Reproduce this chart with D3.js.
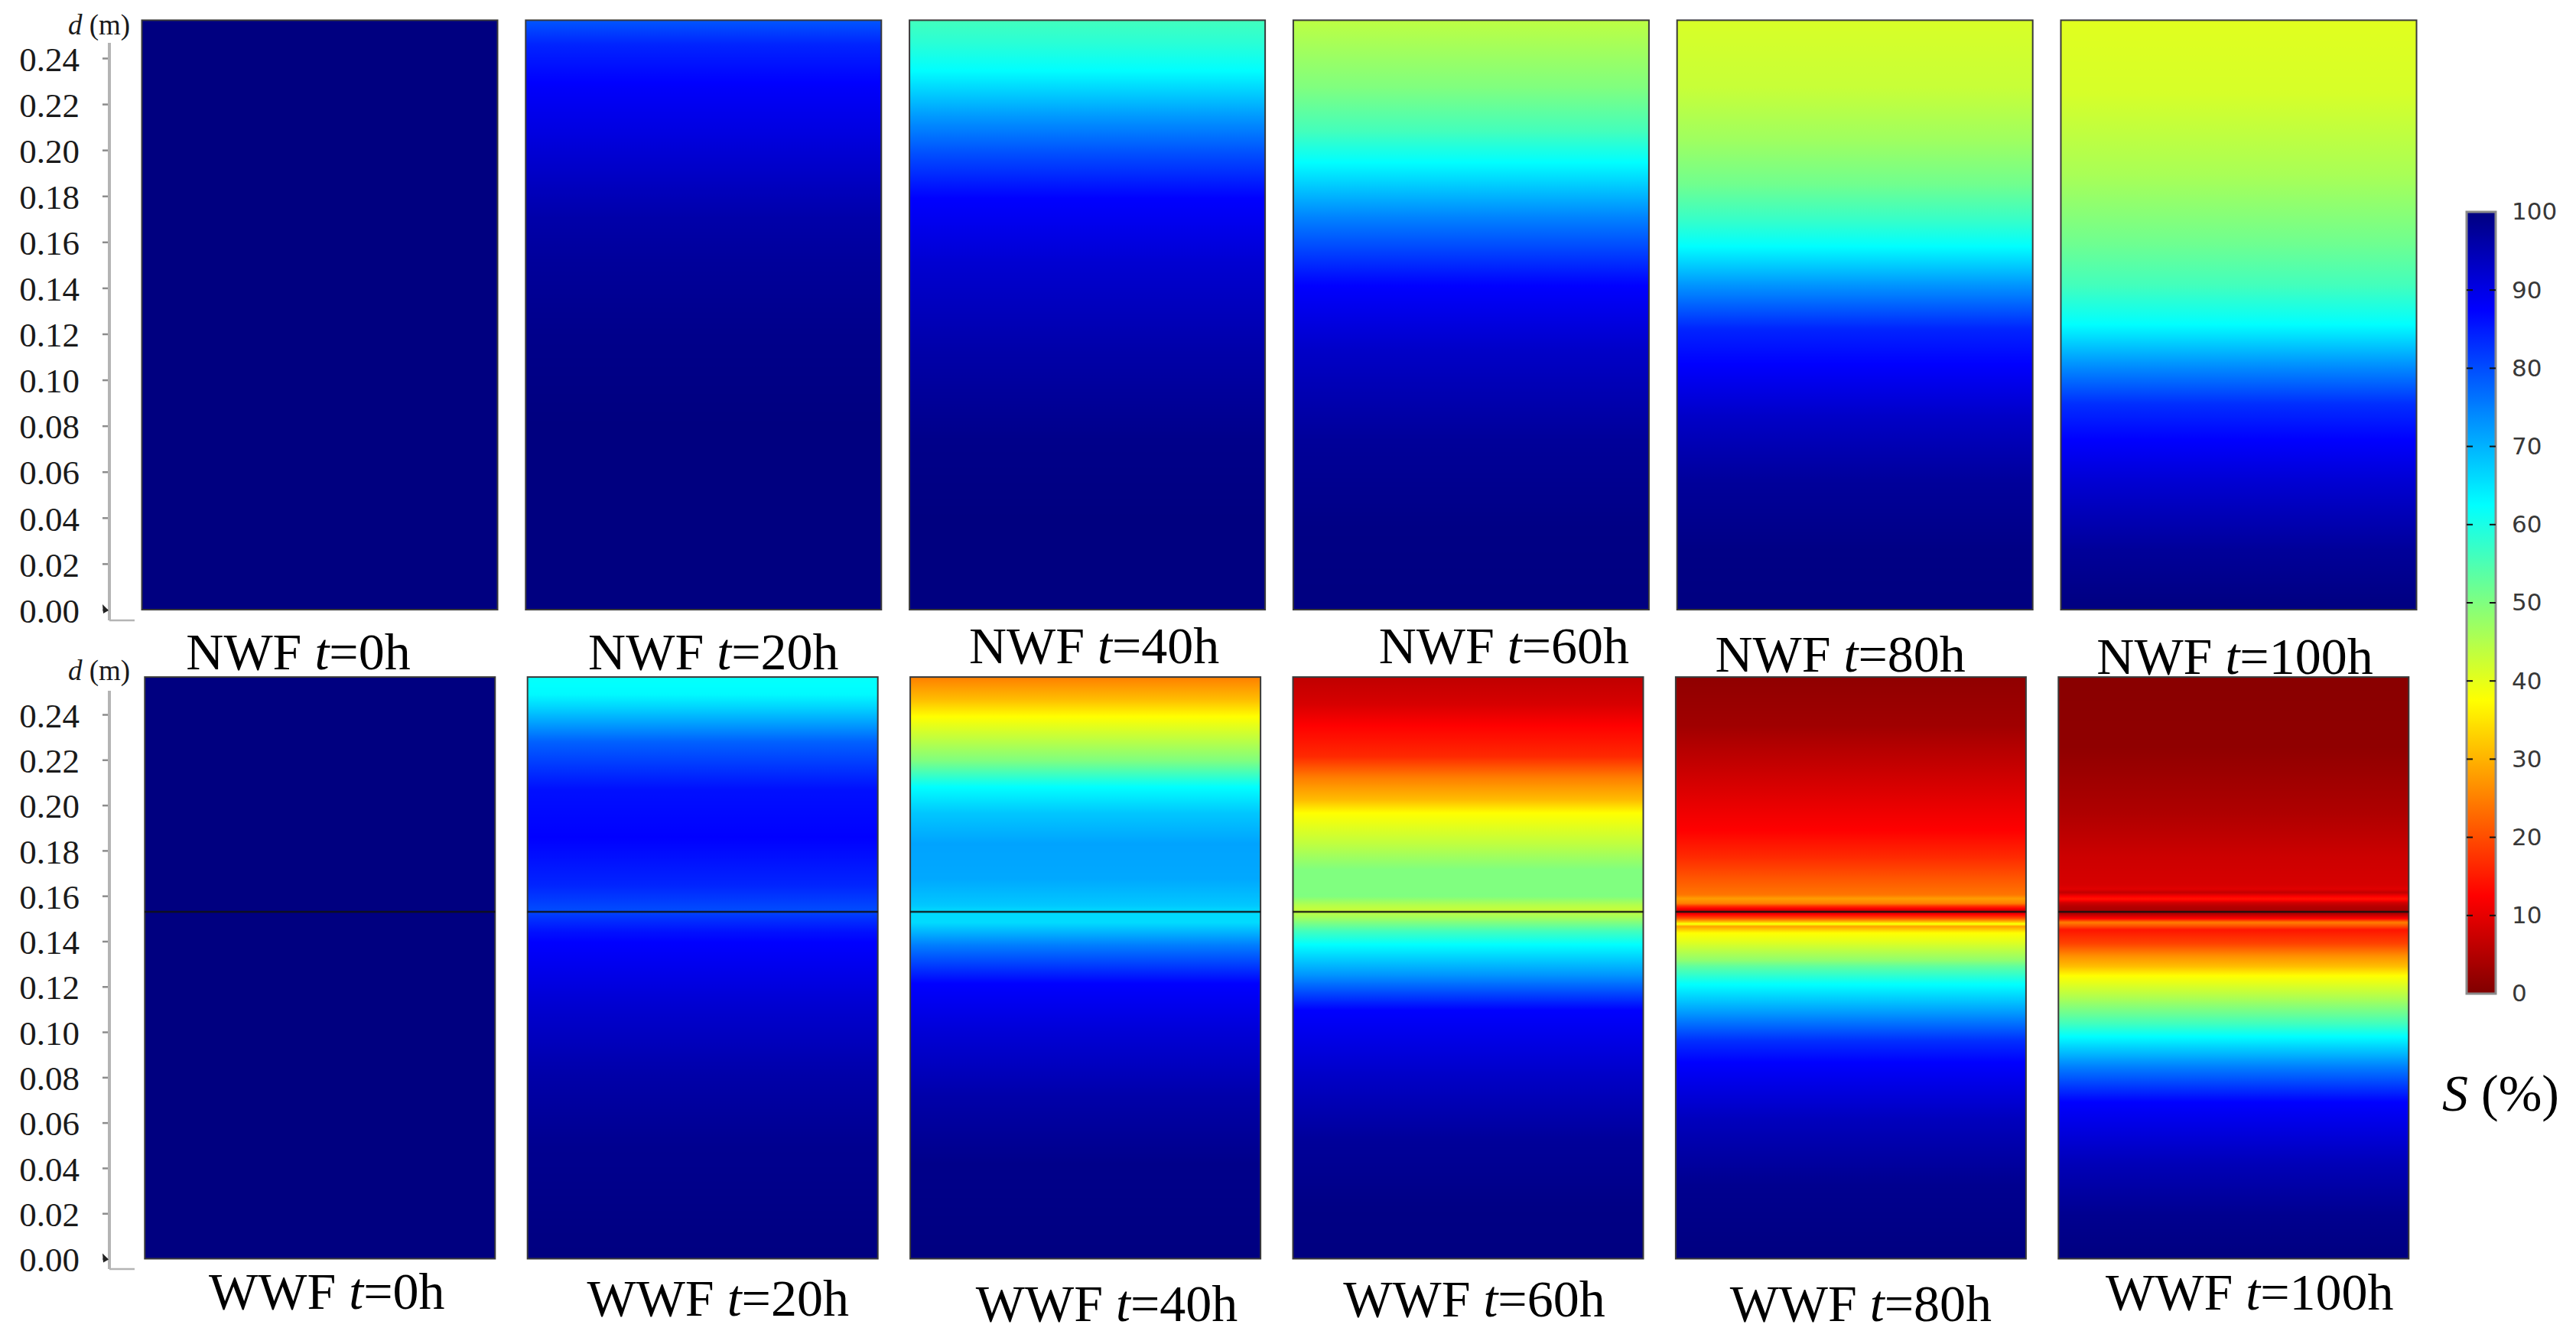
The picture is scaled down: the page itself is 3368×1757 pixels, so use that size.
<!DOCTYPE html>
<html>
<head>
<meta charset="utf-8">
<script src="https://cdn.jsdelivr.net/npm/d3@7"></script>
<style>
  body { margin: 0; background: #fff; }
  svg { display: block; }
</style>
</head>
<body>
<div id="chart"></div>
<script>
// ---- data ----
const times = [0, 20, 40, 60, 80, 100];
const depthTicks = [0.00, 0.02, 0.04, 0.06, 0.08, 0.10, 0.12, 0.14, 0.16, 0.18, 0.20, 0.22, 0.24];
const satTicks = [0, 10, 20, 30, 40, 50, 60, 70, 80, 90, 100];
const columnHeight = 0.2565;   // m
const interfaceDepth = 0.153;  // m, WWF layer boundary

// saturation profiles: [depth d (m), S (%)]
const nwf0 = [[0, 100], [0.2565, 100]];
const nwf20 = [[0, 100], [0.08, 100], [0.112, 99.2], [0.131, 98.4], [0.151, 97.4], [0.17, 96],
  [0.208, 90.5], [0.227, 88], [0.246, 84], [0.2565, 79]];
const nwf40 = [[0, 100], [0.04, 100], [0.074, 99], [0.1125, 96], [0.151, 92], [0.179, 87.5],
  [0.198, 80], [0.2136, 73], [0.2346, 62.5], [0.246, 58.6], [0.2565, 56]];
const nwf60 = [[0, 100], [0.036, 99.5], [0.074, 97.5], [0.1125, 93], [0.141, 87.5], [0.17, 75],
  [0.1946, 62.5], [0.208, 56], [0.227, 50], [0.2565, 44]];
const nwf80 = [[0, 100], [0.026, 99.5], [0.055, 97.5], [0.084, 93], [0.107, 87.5], [0.122, 84],
  [0.141, 73], [0.158, 62.5], [0.17, 57], [0.185, 51.5], [0.204, 47], [0.227, 43], [0.2565, 41.3]];
const nwf100 = [[0, 100], [0.026, 97.5], [0.055, 92], [0.074, 87.5], [0.0895, 83], [0.107, 73],
  [0.124, 62.5], [0.141, 56], [0.16, 51.5], [0.189, 46], [0.225, 41.5], [0.2565, 40.5]];

const wwf0 = [[0, 100], [0.2565, 100]];
const wwf20 = [[0, 100], [0.0495, 98.5], [0.081, 96], [0.1122, 92], [0.1395, 87.5], [0.144, 86],
  [0.1513, 82], [0.1534, 80], [0.1648, 84], [0.1857, 87.5], [0.207, 86], [0.2279, 78],
  [0.2427, 67], [0.2488, 63], [0.2565, 62]];
const wwf40 = [[0, 100], [0.042, 99], [0.071, 96], [0.1, 91.5], [0.1213, 87.5], [0.1385, 75],
  [0.1483, 66], [0.153, 66], [0.156, 68], [0.1675, 71], [0.183, 71.5], [0.1965, 68],
  [0.208, 62.5], [0.2196, 50], [0.2292, 43.75], [0.239, 37.5], [0.2466, 31], [0.2565, 25]];
const wwf60 = [[0, 100], [0.023, 99.5], [0.052, 97.5], [0.0807, 93], [0.1096, 87.5], [0.125, 73],
  [0.1385, 62.5], [0.1444, 56], [0.1502, 47], [0.1537, 43], [0.156, 45], [0.1598, 50],
  [0.1714, 50], [0.183, 43.75], [0.1965, 37.5], [0.2022, 31], [0.2119, 25], [0.2215, 16.5],
  [0.235, 12.5], [0.2447, 8.5], [0.2565, 6.25]];
const wwf80 = [[0, 100], [0.0327, 98.5], [0.0614, 94], [0.0866, 87.5], [0.096, 83], [0.1096, 71.5],
  [0.1214, 62], [0.129, 53], [0.1315, 48.5], [0.1402, 40], [0.1436, 37.5], [0.1453, 32],
  [0.1466, 28], [0.1476, 40], [0.1483, 33], [0.150, 21], [0.1517, 13], [0.1524, 10],
  [0.1534, 7], [0.1544, 12.5], [0.1554, 17], [0.1567, 25], [0.1588, 28], [0.1605, 24],
  [0.1675, 21], [0.1773, 16.5], [0.1888, 12.5], [0.1965, 11], [0.2157, 7.1], [0.235, 3.2],
  [0.2565, 1.6]];
const wwf100 = [[0, 100], [0.019, 98.5], [0.042, 94.5], [0.069, 87.5], [0.0846, 75], [0.098, 62.5],
  [0.1038, 56], [0.1156, 45], [0.1247, 37.5], [0.129, 31], [0.1335, 26.5], [0.139, 19],
  [0.145, 14.5], [0.1466, 20], [0.1483, 25], [0.150, 12.5], [0.1517, 6], [0.1524, 4],
  [0.1537, 4], [0.1555, 5.5], [0.157, 8], [0.1585, 14.5], [0.1595, 13], [0.1615, 6.5],
  [0.163, 9.5], [0.165, 8.5], [0.1773, 7.5], [0.1965, 4.6], [0.2255, 1.6], [0.2565, 0.9]];

const nwfProfiles = [nwf0, nwf20, nwf40, nwf60, nwf80, nwf100];
const wwfProfiles = [wwf0, wwf20, wwf40, wwf60, wwf80, wwf100];

// ---- layout ----
const width = 3368, height = 1757;
const serif = "'Liberation Serif', 'Times New Roman', serif";

const rows = [
  { name: "NWF", profiles: nwfProfiles, xRange: [185.5, 3159.5], pad: 0.0733,
    yRange: [797, 76], axisTop: 56, axisBottom: 811, unitBaseline: 45, hasInterface: false,
    labelDx: [-28, 13, 9, 43, -19, -5], labelY: [875, 875, 867, 867, 878, 881] },
  { name: "WWF", profiles: wwfProfiles, xRange: [189.3, 3149.3], pad: 0.0847,
    yRange: [1645.5, 934], axisTop: 903, axisBottom: 1659, unitBaseline: 889, hasInterface: true,
    labelDx: [9, 20, 28, 8, 13, 21], labelY: [1711, 1720, 1727, 1721, 1727, 1712] }
];

// jet colour map, S = 100 dark blue ... S = 0 dark red
const jet = d3.scaleLinear()
  .domain([0, 12.5, 37.5, 62.5, 87.5, 100])
  .range(["#800000", "#ff0000", "#ffff00", "#00ffff", "#0000ff", "#000080"])
  .clamp(true);

const svg = d3.select("#chart").append("svg")
  .attr("width", width)
  .attr("height", height);

svg.append("rect").attr("width", width).attr("height", height).attr("fill", "#fff");

const defs = svg.append("defs");

const nStops = 800;

function addGradient(id, profile, y) {
  const sAt = d3.scaleLinear()
    .domain(profile.map(p => p[0]))
    .range(profile.map(p => p[1]));
  const grad = defs.append("linearGradient")
    .attr("id", id)
    .attr("gradientUnits", "userSpaceOnUse")
    .attr("x1", 0).attr("x2", 0)
    .attr("y1", y(columnHeight))
    .attr("y2", y(0));
  const stops = d3.range(nStops + 1).map(k => {
    const d = columnHeight * (1 - k / nStops);
    return { offset: k / nStops, color: jet(sAt(d)) };
  });
  grad.selectAll("stop")
    .data(stops)
    .enter()
    .append("stop")
    .attr("offset", d => d.offset)
    .attr("stop-color", d => d.color);
}

rows.forEach((row, r) => {
  const x = d3.scaleBand()
    .domain(times)
    .range(row.xRange)
    .paddingInner(row.pad);
  const y = d3.scaleLinear()
    .domain([0, 0.24])
    .range(row.yRange);

  // panels
  times.forEach((t, i) => {
    const id = "grad-" + row.name + "-" + t;
    addGradient(id, row.profiles[i], y);

    const g = svg.append("g").attr("class", "panel");
    g.append("rect")
      .attr("x", x(t))
      .attr("y", y(columnHeight))
      .attr("width", x.bandwidth())
      .attr("height", y(0) - y(columnHeight))
      .attr("fill", "url(#" + id + ")")
      .attr("stroke", "#3a3a3a")
      .attr("stroke-width", 2);

    if (row.hasInterface) {
      g.append("line")
        .attr("x1", x(t))
        .attr("x2", x(t) + x.bandwidth())
        .attr("y1", y(interfaceDepth))
        .attr("y2", y(interfaceDepth))
        .attr("stroke", "#111")
        .attr("stroke-opacity", 0.85)
        .attr("stroke-width", 2.5);
    }

    const label = svg.append("text")
      .attr("x", x(t) + x.bandwidth() / 2 + row.labelDx[i])
      .attr("y", row.labelY[i])
      .attr("text-anchor", "middle")
      .attr("font-family", serif)
      .attr("font-size", 68)
      .attr("fill", "#000");
    label.append("tspan").text(row.name + " ");
    label.append("tspan").attr("font-style", "italic").text("t");
    label.append("tspan").text("=" + t + "h");
  });

  // depth axis
  const axisX = 143;
  const axisG = svg.append("g")
    .attr("transform", "translate(" + axisX + ",0)")
    .call(d3.axisLeft(y)
      .tickValues(depthTicks)
      .tickFormat(d3.format(".2f"))
      .tickSize(9)
      .tickPadding(30));
  axisG.select(".domain").remove();
  axisG.selectAll(".tick line").attr("stroke", "#8c8c8c").attr("stroke-width", 2.5);
  axisG.selectAll(".tick text")
    .attr("font-family", serif)
    .attr("font-size", 45)
    .attr("fill", "#1a1a1a")
    .attr("dy", "0.36em");

  svg.append("line")
    .attr("x1", axisX).attr("x2", axisX)
    .attr("y1", row.axisTop).attr("y2", row.axisBottom)
    .attr("stroke", "#b4b4b4").attr("stroke-width", 4);
  svg.append("line")
    .attr("x1", axisX).attr("x2", axisX + 33)
    .attr("y1", row.axisBottom).attr("y2", row.axisBottom)
    .attr("stroke", "#b4b4b4").attr("stroke-width", 2.5);
  const y0 = y(0);
  svg.append("path")
    .attr("d", "M" + (axisX - 9) + "," + (y0 - 7) + "L" + (axisX - 1) + "," + (y0 + 1) +
      "L" + (axisX - 8) + "," + (y0 + 5) + "Z")
    .attr("fill", "#222");

  const unit = svg.append("text")
    .attr("x", 89)
    .attr("y", row.unitBaseline)
    .attr("font-family", serif)
    .attr("font-size", 37)
    .attr("fill", "#1a1a1a");
  unit.append("tspan").attr("font-style", "italic").text("d");
  unit.append("tspan").text(" (m)");
});

// ---- colour bar ----
const barX = 3225, barW = 38;
const c = d3.scaleLinear().domain([0, 100]).range([1299, 277]);

// stops run top (100) to bottom (0) so offsets increase
const barGrad = defs.append("linearGradient")
  .attr("id", "grad-bar")
  .attr("gradientUnits", "userSpaceOnUse")
  .attr("x1", 0).attr("x2", 0)
  .attr("y1", c(100)).attr("y2", c(0));
barGrad.selectAll("stop")
  .data(d3.range(100, -0.5, -0.5))
  .enter()
  .append("stop")
  .attr("offset", d => (100 - d) / 100)
  .attr("stop-color", d => jet(d));

svg.append("rect")
  .attr("x", barX)
  .attr("y", c(100))
  .attr("width", barW)
  .attr("height", c(0) - c(100))
  .attr("fill", "url(#grad-bar)")
  .attr("stroke", "#8a8a8a")
  .attr("stroke-width", 3);

const innerTicks = satTicks.filter(v => v > 0 && v < 100);
svg.selectAll(".cb-tick-l")
  .data(innerTicks)
  .enter()
  .append("line")
  .attr("x1", barX).attr("x2", barX + 8)
  .attr("y1", d => c(d)).attr("y2", d => c(d))
  .attr("stroke", "#111").attr("stroke-width", 2);
svg.selectAll(".cb-tick-r")
  .data(innerTicks)
  .enter()
  .append("line")
  .attr("x1", barX + barW - 8).attr("x2", barX + barW)
  .attr("y1", d => c(d)).attr("y2", d => c(d))
  .attr("stroke", "#111").attr("stroke-width", 2);

const cAxis = svg.append("g")
  .attr("transform", "translate(" + (barX + barW) + ",0)")
  .call(d3.axisRight(c).tickValues(satTicks).tickSize(0).tickPadding(21));
cAxis.select(".domain").remove();
cAxis.selectAll(".tick text")
  .attr("font-family", "'DejaVu Sans', Verdana, sans-serif")
  .attr("font-size", 31)
  .attr("fill", "#383838");

const sLabel = svg.append("text")
  .attr("x", 3193)
  .attr("y", 1452)
  .attr("font-family", serif)
  .attr("font-size", 68)
  .attr("fill", "#000");
sLabel.append("tspan").attr("font-style", "italic").text("S");
sLabel.append("tspan").text(" (%)");
</script>
</body>
</html>
